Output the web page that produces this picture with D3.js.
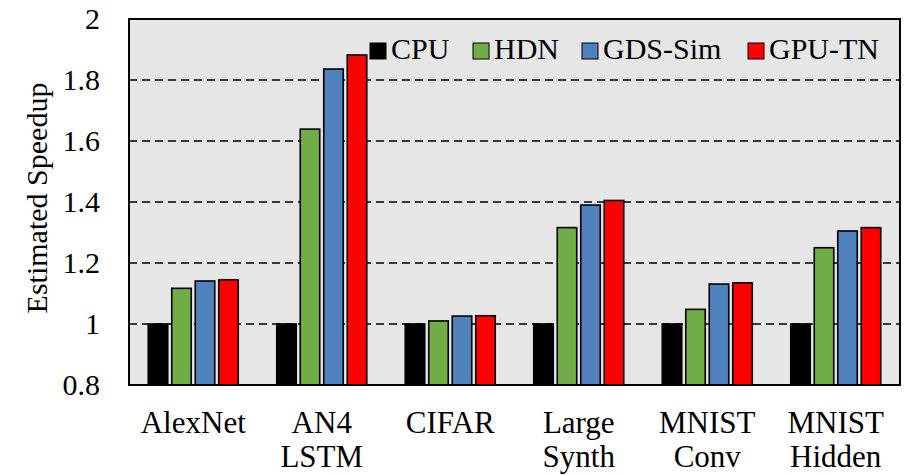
<!DOCTYPE html>
<html>
<head>
<meta charset="utf-8">
<script src="https://cdn.jsdelivr.net/npm/d3@7"></script>
<style>
  html, body { margin: 0; padding: 0; background: #fff; }
  svg { display: block; }
  text { font-family: "Liberation Serif", "Times New Roman", serif; fill: #000; }
</style>
</head>
<body>
<svg id="chart" width="917" height="475"></svg>
<script>
// Benchmarks (each label may span two lines)
const categories = [["AlexNet"], ["AN4", "LSTM"], ["CIFAR"], ["Large", "Synth"], ["MNIST", "Conv"], ["MNIST", "Hidden"]];
const seriesNames = ["CPU", "HDN", "GDS-Sim", "GPU-TN"];
const seriesColors = ["#000000", "#70ad47", "#4f81bd", "#ff0000"];

// Estimated speedup per benchmark, one array per system
const cpu    = [1.000, 1.000, 1.000, 1.000, 1.000, 1.000];
const hdn    = [1.117, 1.639, 1.010, 1.316, 1.048, 1.250];
const gdsSim = [1.141, 1.836, 1.026, 1.390, 1.131, 1.305];
const gpuTn  = [1.145, 1.882, 1.027, 1.405, 1.135, 1.316];

const yTicks = [0.8, 1, 1.2, 1.4, 1.6, 1.8, 2];
const yLabel = "Estimated Speedup";

const seriesValues = [cpu, hdn, gdsSim, gpuTn];
const keys = categories.map(c => c.join(" "));
const serif = '"Liberation Serif", "Times New Roman", serif';

const svg = d3.select("#chart");
const plot = { left: 129, right: 900, top: 19, bottom: 385 };

const x0 = d3.scaleBand().domain(keys).range([plot.left, plot.right]).padding(0);
const x1 = d3.scaleBand().domain(seriesNames).range([-47, 47]).paddingInner(0.17).paddingOuter(0.085);
const y = d3.scaleLinear().domain([0.8, 2]).range([plot.bottom, plot.top]);

// Plot background
svg.append("rect")
  .attr("x", plot.left).attr("y", plot.top)
  .attr("width", plot.right - plot.left).attr("height", plot.bottom - plot.top)
  .attr("fill", "#e6e6e6");

// Dashed gridlines
svg.append("g").selectAll("line")
  .data(yTicks.filter(t => t > 0.8 && t < 2))
  .join("line")
  .attr("x1", plot.left).attr("x2", plot.right)
  .attr("y1", d => y(d)).attr("y2", d => y(d))
  .attr("stroke", "#000").attr("stroke-width", 1.6)
  .attr("stroke-dasharray", "8,5");

// Bars
const groups = svg.append("g").selectAll("g")
  .data(keys)
  .join("g")
  .attr("transform", d => `translate(${x0(d) + x0.bandwidth() / 2},0)`);

groups.selectAll("rect")
  .data((k, i) => seriesNames.map((s, j) => ({ s, j, v: seriesValues[j][i] })))
  .join("rect")
  .attr("x", d => x1(d.s))
  .attr("width", x1.bandwidth())
  .attr("y", d => y(d.v))
  .attr("height", d => y(0.8) - y(d.v))
  .attr("fill", d => seriesColors[d.j])
  .attr("stroke", "#000").attr("stroke-width", 1.6);

// Plot frame
svg.append("rect")
  .attr("x", plot.left).attr("y", plot.top)
  .attr("width", plot.right - plot.left).attr("height", plot.bottom - plot.top)
  .attr("fill", "none").attr("stroke", "#000").attr("stroke-width", 2);

// Y axis labels
const yAxis = svg.append("g")
  .attr("transform", `translate(${plot.left},0)`)
  .call(d3.axisLeft(y).tickValues(yTicks).tickFormat(d3.format("~g")).tickSize(0).tickPadding(29));
yAxis.attr("font-family", null);
yAxis.select(".domain").remove();
yAxis.selectAll("text")
  .style("font-family", serif)
  .style("font-size", "30px").attr("fill", "#000");

// X category labels
const xl = svg.append("g").selectAll("text")
  .data(categories)
  .join("text")
  .attr("text-anchor", "middle")
  .style("font-family", serif)
  .attr("font-size", 31)
  .attr("x", (d, i) => x0(keys[i]) + x0.bandwidth() / 2)
  .attr("y", 433);
xl.selectAll("tspan")
  .data(d => d)
  .join("tspan")
  .attr("x", function () { return d3.select(this.parentNode).attr("x"); })
  .attr("dy", (d, i) => i === 0 ? 0 : 34)
  .text(d => d);

// Y axis title
svg.append("text")
  .attr("transform", `translate(47,${(plot.top + plot.bottom) / 2 - 4}) rotate(-90)`)
  .attr("text-anchor", "middle")
  .style("font-family", serif)
  .attr("font-size", 30)
  .text(yLabel);

// Legend
const legendX = [370, 473, 582, 748];
const legend = svg.append("g").selectAll("g")
  .data(seriesNames)
  .join("g")
  .attr("transform", (d, i) => `translate(${legendX[i]},43)`);
legend.append("rect")
  .attr("width", 16).attr("height", 16)
  .attr("fill", (d, i) => seriesColors[i])
  .attr("stroke", "#000").attr("stroke-width", 1);
legend.append("text")
  .attr("x", 21).attr("y", 16)
  .style("font-family", serif)
  .attr("font-size", 30)
  .text(d => d);
</script>
</body>
</html>
